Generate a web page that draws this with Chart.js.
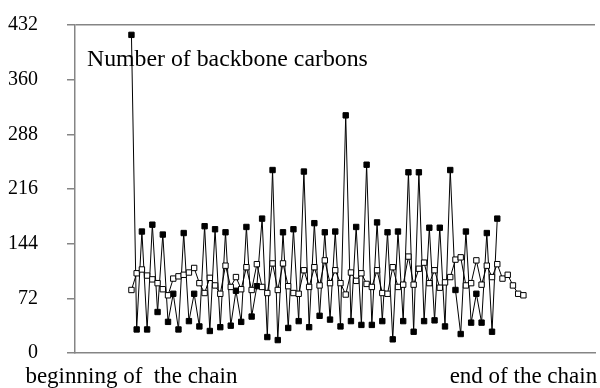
<!DOCTYPE html>
<html>
<head>
<meta charset="utf-8">
<script src="https://cdn.jsdelivr.net/npm/chart.js@4/dist/chart.umd.min.js"></script>
<style>
  html, body { margin: 0; padding: 0; background: #fff; }
  #wrap { width: 600px; height: 388px; position: relative; }
</style>
</head>
<body>
<div id="wrap"><canvas id="chart"></canvas></div>
<script>
// tick values and axis text
const yTicks = [0, 72, 144, 216, 288, 360, 432];
const endLabels = ['beginning of  the chain', 'end of the chain'];
const caption = 'Number of backbone carbons';

// filled squares, one value per position along the chain
const seriesFilled = [
  419, 31, 160, 31, 169, 54, 156, 41, 78, 31,
  158, 42, 78, 35, 167, 29, 163, 34, 159, 36,
  82, 41, 166, 48, 88, 177, 21, 241, 17, 159,
  33, 163, 42, 239, 34, 171, 49, 159, 44, 160,
  35, 313, 42, 166, 37, 248, 37, 172, 42, 159,
  18, 160, 42, 238, 28, 238, 42, 165, 43, 165,
  35, 241, 83, 25, 160, 40, 78, 40, 158, 28, 177
];

// open squares
const seriesOpen = [
  83, 105, 110, 102, 97, 92, 84, 76, 98, 101,
  103, 106, 112, 92, 79, 99, 89, 78, 115, 87,
  100, 84, 113, 83, 117, 87, 79, 118, 83, 118,
  88, 79, 78, 109, 87, 113, 89, 122, 92, 109,
  92, 77, 106, 95, 105, 91, 87, 109, 79, 78,
  113, 87, 90, 127, 90, 111, 119, 92, 109, 86,
  93, 100, 123, 126, 89, 92, 122, 90, 115, 100,
  117, 98, 103, 89, 78, 76
];

const toPoints = arr => arr.map((v, i) => ({ x: i + 1, y: v }));
const axisGrey = '#858585';
const serif = '"Liberation Serif", "Times New Roman", serif';

// keep the plot area fixed: no extra room for overhanging tick labels
const noLabelPadding = scale => {
  scale.paddingTop = 0;
  scale.paddingBottom = 0;
  scale.paddingLeft = 0;
  scale.paddingRight = 0;
};

const captionPlugin = {
  id: 'caption',
  beforeDatasetsDraw(chart) {
    const { ctx, chartArea } = chart;
    ctx.save();
    ctx.font = '23.8px ' + serif;
    ctx.fillStyle = '#000';
    ctx.textBaseline = 'alphabetic';
    ctx.textAlign = 'left';
    ctx.fillText(caption, chartArea.left + 12, chartArea.top + 41);
    ctx.restore();
  }
};

new Chart(document.getElementById('chart'), {
  type: 'line',
  data: {
    datasets: [
      {
        label: 'open',
        data: toPoints(seriesOpen),
        borderColor: '#000',
        borderWidth: 1,
        pointStyle: 'rect',
        pointRadius: 3.8,
        pointBackgroundColor: '#fff',
        pointBorderColor: '#000',
        pointBorderWidth: 1,
        tension: 0
      },
      {
        label: 'filled',
        data: toPoints(seriesFilled),
        borderColor: '#000',
        borderWidth: 1,
        pointStyle: 'rect',
        pointRadius: 3.8,
        pointBackgroundColor: '#000',
        pointBorderColor: '#000',
        pointBorderWidth: 1,
        tension: 0
      }
    ]
  },
  options: {
    responsive: true,
    maintainAspectRatio: false,
    animation: false,
    layout: { padding: { top: 25, right: 0, bottom: 0, left: 0 } },
    plugins: {
      legend: { display: false },
      tooltip: { enabled: false }
    },
    scales: {
      x: {
        type: 'linear',
        min: -9.8,
        max: 89.7,
        afterBuildTicks: scale => {
          scale.ticks = [{ value: 1 }, { value: seriesOpen.length }];
        },
        afterFit: scale => {
          scale.height = 35;
          noLabelPadding(scale);
        },
        grid: { display: false, drawTicks: false },
        border: { display: true, color: axisGrey, width: 1.5 },
        ticks: {
          color: '#000',
          font: { family: serif, size: 23 },
          padding: 10,
          maxRotation: 0,
          autoSkip: false,
          callback: (value) => value === 1 ? endLabels[0] : endLabels[1]
        }
      },
      y: {
        min: 0,
        max: 432,
        afterBuildTicks: scale => {
          scale.ticks = yTicks.map(v => ({ value: v }));
        },
        afterFit: scale => {
          scale.width = 75;
          noLabelPadding(scale);
        },
        grid: {
          drawOnChartArea: true,
          color: ctx => ctx.tick && ctx.tick.value === 432 ? axisGrey : 'rgba(0,0,0,0)',
          lineWidth: 1.5,
          tickColor: axisGrey,
          tickLength: 8
        },
        border: { display: true, color: axisGrey, width: 1.5 },
        ticks: {
          color: '#000',
          font: { family: serif, size: 20 },
          padding: 29
        }
      }
    }
  },
  plugins: [captionPlugin]
});
</script>
</body>
</html>
